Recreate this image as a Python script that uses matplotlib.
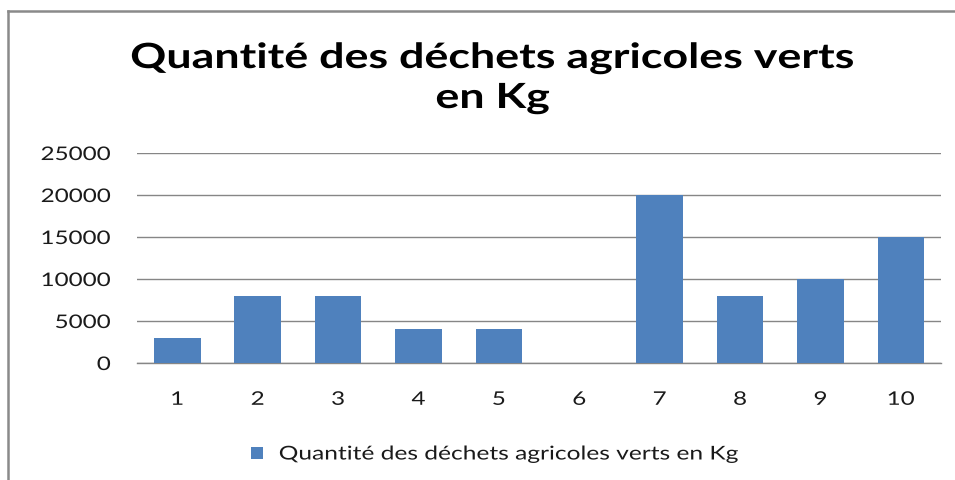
import matplotlib
matplotlib.use("Agg")
import matplotlib.pyplot as plt
from matplotlib.lines import Line2D
from matplotlib.patheffects import AbstractPathEffect
from matplotlib.transforms import Affine2D

categories = ["1", "2", "3", "4", "5", "6", "7", "8", "9", "10"]
values = [3000, 8000, 8000, 4000, 4000, 0, 20000, 8000, 10000, 15000]
yticks = [0, 5000, 10000, 15000, 20000, 25000]
title_line1 = "Quantité des déchets agricoles verts"
title_line2 = "en Kg"
series_name = "Quantité des déchets agricoles verts en Kg"

plt.rcParams['font.family'] = ['Lato', 'DejaVu Sans']


class HStretch(AbstractPathEffect):
    """Stretch text horizontally (the reference text is wide)."""
    def __init__(self, sx=1.29, anchor="center"):
        super().__init__()
        self.sx = sx
        self.anchor = anchor

    def draw_path(self, renderer, gc, tpath, affine, rgbFace=None):
        ext = tpath.get_extents(affine)
        if self.anchor == "left":
            cx = ext.x0
        elif self.anchor == "right":
            cx = ext.x1
        else:
            cx = 0.5 * (ext.x0 + ext.x1)
        t = affine + Affine2D().translate(-cx, 0).scale(self.sx, 1).translate(cx, 0)
        renderer.draw_path(gc, tpath, t, rgbFace)


fig = plt.figure(figsize=(9.55, 4.81), dpi=100)
ax = fig.add_axes([0.1435, 0.2432, 0.8419, 0.4366])

x = list(range(1, len(categories) + 1))
bars = ax.bar(x, values, width=0.58, color="#4F81BD", zorder=3, label=series_name)

ax.set_xlim(0.5, len(categories) + 0.5)
ax.set_ylim(0, 25000)
ax.set_yticks(yticks)
ax.set_yticklabels([str(v) for v in yticks])
ax.set_xticks(x)
ax.set_xticklabels(categories)
ax.grid(axis="y", color="#868686", linewidth=1.0, zorder=0)
for s in ["top", "right", "left"]:
    ax.spines[s].set_visible(False)
ax.spines["bottom"].set_color("#868686")
ax.spines["bottom"].set_linewidth(1.0)
ax.tick_params(axis="both", length=0, labelsize=13.5, colors="#1a1a1a")
ax.tick_params(axis="y", pad=19)
ax.tick_params(axis="x", pad=20)
for lbl in ax.get_xticklabels():
    lbl.set_path_effects([HStretch(anchor="center")])
for lbl in ax.get_yticklabels():
    lbl.set_path_effects([HStretch(anchor="right")])

t1 = fig.text(0.516, 1 - 69 / 481, title_line1, ha="center", va="baseline",
              fontsize=25, fontweight="bold", color="black")
t2 = fig.text(0.516, 1 - 109 / 481, title_line2, ha="center", va="baseline",
              fontsize=25, fontweight="bold", color="black")
for t in (t1, t2):
    t.set_path_effects([HStretch(anchor="center")])

leg = fig.legend(handles=[bars], labels=[series_name], loc="center left",
                 bbox_to_anchor=(251 / 955, 1 - 455 / 481), frameon=False,
                 fontsize=13.7, handlelength=0.62, handleheight=0.62,
                 handletextpad=0.85, borderpad=0, borderaxespad=0)
for t in leg.get_texts():
    t.set_path_effects([HStretch(anchor="left")])
    t.set_color("#1a1a1a")

# chart frame (top and left visible)
fig.add_artist(Line2D([8 / 955, 1.0], [1 - 12 / 481, 1 - 12 / 481], color="#8a8a8a",
                      linewidth=1.8, transform=fig.transFigure))
fig.add_artist(Line2D([8 / 955, 8 / 955], [0.0, 1 - 12 / 481], color="#8a8a8a",
                      linewidth=1.8, transform=fig.transFigure))

fig.savefig("out.png", dpi=100)
